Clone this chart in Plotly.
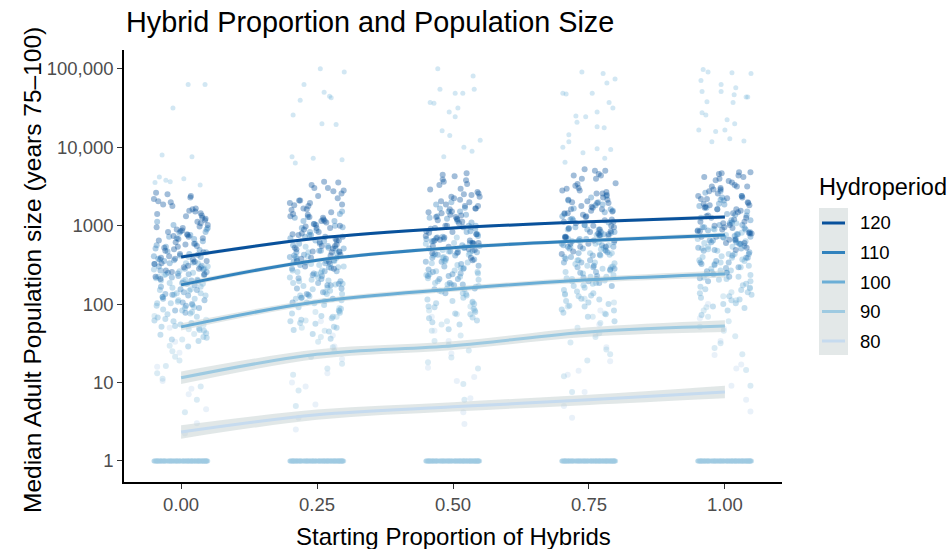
import plotly.graph_objects as go

# ---------------- data ----------------
X_GROUPS = [0.00, 0.25, 0.50, 0.75, 1.00]
X_TICKTEXT = ["0.00", "0.25", "0.50", "0.75", "1.00"]
Y_TICKVALS = [1, 10, 100, 1000, 10000, 100000]
Y_TICKTEXT = ["1", "10", "100", "1000", "10,000", "100,000"]

HYDRO = [120, 110, 100, 90, 80]
COLORS = ["#08519c", "#3182bd", "#6baed6", "#9ecae1", "#c6dbef"]

# smoothed fit (log10 of population) at each starting proportion
SMOOTH_120 = [2.60, 2.84, 2.97, 3.05, 3.11]
SMOOTH_110 = [2.245, 2.56, 2.72, 2.81, 2.88]
SMOOTH_100 = [1.71, 2.03, 2.19, 2.31, 2.385]
SMOOTH_90 = [1.06, 1.36, 1.47, 1.645, 1.72]
SMOOTH_80 = [0.37, 0.59, 0.69, 0.78, 0.88]
# confidence half-width (log10 units)
SE_120 = [0.025, 0.02, 0.02, 0.02, 0.025]
SE_110 = [0.032, 0.025, 0.025, 0.025, 0.032]
SE_100 = [0.045, 0.035, 0.033, 0.035, 0.045]
SE_90 = [0.08, 0.06, 0.055, 0.06, 0.075]
SE_80 = [0.085, 0.065, 0.06, 0.065, 0.08]

# jitter offsets (horizontal spread of points inside each group)
JITTER = [-0.046, 0.021, -0.008, 0.039, -0.031, 0.012, -0.019, 0.047, -0.002, 0.030,
          -0.041, 0.005, 0.026, -0.024, 0.043, -0.013, 0.017, -0.037, 0.034, -0.005,
          0.009, -0.049, 0.024, -0.016, 0.041, -0.028, 0.002, 0.036, -0.011, 0.014,
          -0.044, 0.029, -0.021, 0.046, -0.034, 0.007, -0.003, 0.019, -0.039, 0.032]
JITTER_B = [0.018, -0.036, 0.044, -0.010, 0.027, -0.047, 0.003, 0.038, -0.022, 0.011,
            -0.042, 0.033, -0.006, 0.049, -0.029, 0.015, -0.017, 0.040, -0.033, 0.022,
            -0.001, 0.045, -0.038, 0.008, -0.025, 0.031, -0.045, 0.013, 0.036, -0.014,
            0.025, -0.050, 0.042, -0.008, 0.020, -0.031, 0.047, -0.019, 0.004, -0.043]

# log10 population of the plotted runs, per group (x = 0, .25, .5, .75, 1)
PTS_120 = [
    [3.42,3.21,2.95,3.10,2.72,2.88,3.30,2.55,2.64,3.05,2.81,2.47,3.18,2.92,2.38,2.70,3.36,2.59,2.99,2.83,3.12,2.51,2.77,3.25,2.66,2.43,2.94,3.03,2.58,2.86,3.15,2.74],
    [3.55,3.32,3.08,3.21,2.86,3.01,3.44,2.72,2.79,3.17,2.95,2.63,3.29,3.04,2.55,2.83,3.48,2.74,3.12,2.97,3.25,2.67,2.90,3.38,2.81,2.59,3.06,3.15,2.71,2.99,3.27,2.88],
    [3.65,3.41,3.18,3.30,2.96,3.11,3.53,2.82,2.89,3.27,3.05,2.74,3.39,3.14,2.66,2.93,3.58,2.85,3.22,3.07,3.35,2.78,3.00,3.47,2.91,2.70,3.16,3.25,2.81,3.09,3.37,2.98],
    [3.70,3.47,3.24,3.36,3.03,3.18,3.60,2.90,2.96,3.33,3.12,2.81,3.45,3.21,2.73,3.00,3.64,2.92,3.29,3.14,3.41,2.85,3.07,3.53,2.98,2.77,3.23,3.31,2.88,3.16,3.43,3.05],
    [3.68,3.50,3.29,3.41,3.08,3.23,3.62,2.95,3.01,3.38,3.17,2.86,3.50,3.26,2.78,3.05,3.66,2.97,3.34,3.19,3.46,2.90,3.12,3.57,3.03,2.82,3.28,3.36,2.93,3.21,3.48,3.10],
]
PTS_120_B = [
    [3.38,2.52,3.07,2.79,3.22,2.35,2.97,3.13,2.61,2.89,3.31,2.45,2.73,3.01,2.68,3.19,2.41,2.84,3.27,2.57,2.93,3.09,2.32,2.76,3.40,2.63,2.98,2.49,3.16,2.87,2.54,3.34],
    [3.52,2.66,3.20,2.92,3.35,2.48,3.10,3.26,2.74,3.02,3.45,2.58,2.86,3.14,2.81,3.32,2.54,2.97,3.41,2.70,3.06,3.22,2.45,2.89,3.56,2.76,3.11,2.62,3.29,3.00,2.67,3.48],
    [3.63,2.77,3.31,3.03,3.46,2.59,3.21,3.37,2.85,3.13,3.56,2.69,2.97,3.25,2.92,3.43,2.65,3.08,3.52,2.81,3.17,3.33,2.56,3.00,3.67,2.87,3.22,2.73,3.40,3.11,2.78,3.59],
    [3.70,2.85,3.39,3.11,3.54,2.67,3.29,3.45,2.93,3.21,3.64,2.77,3.05,3.33,3.00,3.51,2.73,3.16,3.60,2.89,3.25,3.41,2.64,3.08,3.72,2.95,3.30,2.81,3.48,3.19,2.86,3.66],
    [3.67,2.90,3.44,3.16,3.58,2.72,3.34,3.50,2.98,3.26,3.62,2.82,3.10,3.38,3.05,3.55,2.78,3.21,3.64,2.94,3.30,3.46,2.69,3.13,3.68,3.00,3.35,2.86,3.52,3.24,2.91,3.60],
]
PTS_110 = [
    [2.95,2.62,2.31,2.48,2.15,2.77,2.40,2.05,2.56,2.88,2.22,2.69,2.36,1.98,2.51,2.83,2.12,2.44,2.73,2.27,2.60,1.92,2.38,3.05,2.18,2.52,2.66,2.09,2.45,2.91,2.30,2.57],
    [3.10,2.77,2.46,2.63,2.29,2.92,2.55,2.20,2.71,3.02,2.36,2.84,2.51,2.12,2.66,2.97,2.27,2.59,2.88,2.42,2.75,2.07,2.53,3.18,2.33,2.68,2.81,2.24,2.60,3.06,2.45,2.72],
    [3.22,2.89,2.58,2.75,2.41,3.04,2.67,2.32,2.83,3.14,2.48,2.96,2.63,2.24,2.78,3.09,2.39,2.71,3.00,2.54,2.87,2.19,2.65,3.30,2.45,2.80,2.93,2.36,2.72,3.18,2.57,2.84],
    [3.30,2.97,2.66,2.83,2.49,3.12,2.75,2.40,2.91,3.22,2.56,3.04,2.71,2.32,2.86,3.17,2.47,2.79,3.08,2.62,2.95,2.27,2.73,3.38,2.53,2.88,3.01,2.44,2.80,3.26,2.65,2.92],
    [3.36,3.03,2.72,2.89,2.55,3.18,2.81,2.46,2.97,3.28,2.62,3.10,2.77,2.38,2.92,3.23,2.53,2.85,3.14,2.68,3.01,2.33,2.79,3.44,2.59,2.94,3.07,2.50,2.86,3.32,2.71,2.98],
]
PTS_110_B = [
    [2.71,2.02,2.49,2.86,2.26,2.58,1.95,2.39,2.97,2.13,2.64,2.34,2.80,2.07,2.53,2.19,2.92,2.43,1.89,2.67,2.29,2.75,2.11,2.47,3.01,2.24,2.61,2.37,2.84,2.00,2.55,2.41],
    [2.86,2.15,2.62,3.00,2.39,2.71,2.08,2.52,3.11,2.26,2.77,2.47,2.94,2.20,2.66,2.32,3.06,2.56,2.02,2.80,2.42,2.88,2.24,2.60,3.15,2.37,2.74,2.50,2.98,2.13,2.68,2.54],
    [2.98,2.27,2.74,3.12,2.51,2.83,2.20,2.64,3.23,2.38,2.89,2.59,3.06,2.32,2.78,2.44,3.18,2.68,2.14,2.92,2.54,3.00,2.36,2.72,3.27,2.49,2.86,2.62,3.10,2.25,2.80,2.66],
    [3.07,2.36,2.83,3.21,2.60,2.92,2.29,2.73,3.32,2.47,2.98,2.68,3.15,2.41,2.87,2.53,3.27,2.77,2.23,3.01,2.63,3.09,2.45,2.81,3.36,2.58,2.95,2.71,3.19,2.34,2.89,2.75],
    [3.13,2.42,2.89,3.27,2.66,2.98,2.35,2.79,3.38,2.53,3.04,2.74,3.21,2.47,2.93,2.59,3.33,2.83,2.29,3.07,2.69,3.15,2.51,2.87,3.42,2.64,3.01,2.77,3.25,2.40,2.95,2.81],
]
PTS_100 = [
    [2.45,2.12,1.88,2.30,1.67,2.05,2.52,1.79,1.96,2.21,1.58,2.38,1.92,2.14,1.72,2.60,2.01,1.84,2.27,1.63,2.09,1.95,2.42,1.76,2.18,1.53,2.33,1.99],
    [2.58,2.25,2.01,2.43,1.78,2.17,2.66,1.91,2.08,2.34,1.70,2.51,2.04,2.27,1.84,2.73,2.13,1.96,2.40,1.75,2.21,2.07,2.55,1.88,2.30,1.62,2.47,2.11],
    [2.70,2.37,2.13,2.55,1.90,2.29,2.78,2.03,2.20,2.46,1.82,2.63,2.16,2.39,1.96,2.85,2.25,2.08,2.52,1.87,2.33,2.19,2.67,2.00,2.42,1.74,2.59,2.23],
    [2.80,2.47,2.23,2.65,2.00,2.39,2.88,2.13,2.30,2.56,1.92,2.73,2.26,2.49,2.06,2.95,2.35,2.18,2.62,1.97,2.43,2.29,2.77,2.10,2.52,1.84,2.69,2.33],
    [2.88,2.55,2.31,2.73,2.08,2.47,2.96,2.21,2.38,2.64,2.00,2.81,2.34,2.57,2.14,3.03,2.43,2.26,2.70,2.05,2.51,2.37,2.85,2.18,2.60,1.92,2.77,2.41],
]
PTS_100_B = [
    [2.35,1.69,2.03,2.48,1.81,2.17,1.55,2.26,1.93,2.40,1.74,2.11,1.61,2.31,1.87,2.52,1.98,1.46,2.22,1.78,2.07,2.44,1.66,2.14,1.90,2.37,1.57,2.01,2.29,1.83,2.19,1.71],
    [2.48,1.80,2.15,2.61,1.92,2.29,1.65,2.38,2.05,2.53,1.85,2.23,1.71,2.43,1.99,2.65,2.10,1.56,2.34,1.89,2.19,2.57,1.76,2.26,2.02,2.50,1.67,2.13,2.41,1.94,2.31,1.82],
    [2.60,1.92,2.27,2.73,2.04,2.41,1.77,2.50,2.17,2.65,1.97,2.35,1.83,2.55,2.11,2.77,2.22,1.68,2.46,2.01,2.31,2.69,1.88,2.38,2.14,2.62,1.79,2.25,2.53,2.06,2.43,1.94],
    [2.70,2.02,2.37,2.83,2.14,2.51,1.87,2.60,2.27,2.75,2.07,2.45,1.93,2.65,2.21,2.87,2.32,1.78,2.56,2.11,2.41,2.79,1.98,2.48,2.24,2.72,1.89,2.35,2.63,2.16,2.53,2.04],
    [2.78,2.10,2.45,2.91,2.22,2.59,1.95,2.68,2.35,2.83,2.15,2.53,2.01,2.73,2.29,2.95,2.40,1.86,2.64,2.19,2.49,2.87,2.06,2.56,2.32,2.80,1.97,2.43,2.71,2.24,2.61,2.12],
]
PTS_90 = [
    [1.85,1.62,1.40,1.73,1.21,1.55,0.95,1.33,1.68,1.12,0.78,1.47,1.80,1.05,0.62,1.28],
    [1.95,1.70,1.52,1.84,1.33,1.66,1.10,1.45,1.79,1.24,0.90,1.58,1.90,1.18,0.70,1.40],
    [2.02,1.78,1.60,1.92,1.41,1.74,1.18,1.53,1.87,1.32,0.98,1.66,1.97,1.26,0.78,1.48],
    [2.12,1.88,1.70,2.02,1.51,1.84,1.28,1.63,1.97,1.42,1.08,1.76,2.07,1.36,0.88,1.58],
    [2.20,1.96,1.78,2.10,1.59,1.92,1.36,1.71,2.05,1.50,1.16,1.84,2.15,1.44,0.96,1.66],
]
PTS_80 = [
    [1.52,0.85,1.20,0.48,1.70,0.66,1.02,0.35,1.38,0.92],
    [1.60,0.95,1.30,0.55,1.78,0.72,1.12,0.40,1.46,1.00],
    [1.66,1.02,1.37,0.62,1.84,0.80,1.19,0.47,1.53,1.07],
    [1.74,1.10,1.45,0.70,1.92,0.88,1.27,0.55,1.61,1.15],
    [1.82,1.18,1.53,0.78,2.00,0.96,1.35,0.63,1.69,1.23],
]
# sparse very large runs: (jitter offset, log10 population)
HIGH_RUNS = [
    [(0.013,4.80),(0.044,4.80),(-0.015,4.50),(-0.035,3.90),(0.020,3.88),(-0.040,3.62),(0.005,3.60),(-0.048,3.55),(-0.020,3.56),(0.035,3.52),(-0.028,3.58)],
    [(0.006,5.00),(0.050,4.96),(-0.024,4.80),(0.013,4.70),(0.026,4.63),(0.023,4.65),(-0.031,4.60),(-0.044,4.41),(0.009,4.30),(0.035,4.29),(-0.046,3.88),(0.046,3.84),(-0.040,3.80),(-0.007,3.86)],
    [(-0.028,5.00),(-0.024,4.74),(-0.035,4.56),(-0.042,4.57),(0.004,4.69),(0.018,4.69),(-0.007,4.45),(0.009,4.50),(0.004,4.39),(-0.020,4.21),(-0.006,4.15),(0.020,4.00),(-0.017,3.88),(0.037,4.91),(0.039,4.74),(0.050,4.09),(0.035,3.95)],
    [(-0.013,4.96),(0.026,4.94),(0.048,4.87),(-0.048,4.69),(-0.042,4.68),(0.006,4.69),(0.033,4.82),(0.037,4.57),(0.044,4.50),(0.015,4.45),(-0.024,4.40),(-0.006,4.39),(-0.022,4.32),(0.015,4.26),(0.028,4.25),(-0.037,4.16),(-0.037,4.07),(0.015,3.98),(0.040,3.97),(-0.048,4.00),(-0.011,3.93),(0.029,3.86),(-0.044,3.81)],
    [(-0.040,4.99),(-0.031,4.96),(0.013,4.95),(0.048,4.94),(-0.044,4.85),(-0.007,4.80),(0.020,4.76),(-0.042,4.71),(-0.007,4.71),(0.017,4.67),(0.039,4.64),(0.042,4.64),(-0.033,4.58),(0.015,4.57),(-0.042,4.44),(-0.035,4.41),(0.004,4.35),(0.018,4.30),(-0.048,4.22),(-0.017,4.20),(0.000,4.22),(0.009,4.11),(0.035,4.08),(-0.024,4.07)],
]
FLOOR_VALUE = 1  # runs that ended at the minimum population

PTS = [PTS_120, PTS_110, PTS_100, PTS_90, PTS_80]
PTS_B = [PTS_120_B, PTS_110_B, PTS_100_B, None, None]
SMOOTH = [SMOOTH_120, SMOOTH_110, SMOOTH_100, SMOOTH_90, SMOOTH_80]
SE = [SE_120, SE_110, SE_100, SE_90, SE_80]

fig = go.Figure()
MSIZE = 6
MOPAC = 0.38

# ---- jittered points (light to dark so dark sits on top) ----
for h in reversed(range(len(HYDRO))):
    xs, ys = [], []
    for g, gx in enumerate(X_GROUPS):
        for i, v in enumerate(PTS[h][g]):
            xs.append(gx + JITTER[(i + 7 * h + 3 * g) % len(JITTER)])
            ys.append(10 ** v)
        if PTS_B[h] is not None:
            for i, v in enumerate(PTS_B[h][g]):
                xs.append(gx + JITTER_B[(i + 5 * h + 3 * g) % len(JITTER_B)])
                ys.append(10 ** v)
    fig.add_trace(go.Scatter(x=xs, y=ys, mode="markers", showlegend=False, hoverinfo="skip",
                             marker=dict(size=MSIZE, color=COLORS[h], opacity=MOPAC, line=dict(width=0))))

# high outlier runs
hx, hy = [], []
for g, gx in enumerate(X_GROUPS):
    for off, v in HIGH_RUNS[g]:
        hx.append(gx + off)
        hy.append(10 ** v)
fig.add_trace(go.Scatter(x=hx, y=hy, mode="markers", showlegend=False, hoverinfo="skip",
                         marker=dict(size=5, color="#6baed6", opacity=0.3, line=dict(width=0))))

# floor row at population 1
fx, fy = [], []
for gx in X_GROUPS:
    for off in JITTER + JITTER_B:
        fx.append(gx + off)
        fy.append(FLOOR_VALUE)
fig.add_trace(go.Scatter(x=fx, y=fy, mode="markers", showlegend=False, hoverinfo="skip",
                         marker=dict(size=5, color="#9ecae1", opacity=0.55, line=dict(width=0))))

# ---- confidence bands ----
BAND = "rgba(195,207,207,0.5)"
for h in range(len(HYDRO)):
    up = [10 ** (m + s) for m, s in zip(SMOOTH[h], SE[h])]
    lo = [10 ** (m - s) for m, s in zip(SMOOTH[h], SE[h])]
    fig.add_trace(go.Scatter(x=X_GROUPS, y=up, mode="lines", line=dict(width=0, shape="spline"),
                             showlegend=False, hoverinfo="skip"))
    fig.add_trace(go.Scatter(x=X_GROUPS, y=lo, mode="lines", line=dict(width=0, shape="spline"),
                             fill="tonexty", fillcolor=BAND, showlegend=False, hoverinfo="skip"))

# ---- smooth lines ----
for h in range(len(HYDRO)):
    fig.add_trace(go.Scatter(x=X_GROUPS, y=[10 ** m for m in SMOOTH[h]], mode="lines",
                             line=dict(color=COLORS[h], width=3, shape="spline"),
                             name=str(HYDRO[h]), showlegend=False))

# ---- manual legend (ggplot style) ----
L, R, T, B = 124, 782, 50, 482
W, H = R - L, B - T
px = lambda p: (p - L) / W
py = lambda p: (B - p) / H
shapes = [dict(type="rect", xref="paper", yref="paper", x0=px(819), x1=px(848), y0=py(355), y1=py(208),
               fillcolor="#e3e8e8", line=dict(width=0), layer="below")]
annotations = [dict(text="Hydroperiod", xref="paper", yref="paper", x=px(817), y=py(187),
                    xanchor="left", yanchor="middle", showarrow=False,
                    font=dict(size=23.5, color="black"))]
for k, hv in enumerate(HYDRO):
    yk = 223 + k * 29.5
    shapes.append(dict(type="line", xref="paper", yref="paper", x0=px(822), x1=px(845), y0=py(yk), y1=py(yk),
                       line=dict(color=COLORS[k], width=3)))
    annotations.append(dict(text=str(hv), xref="paper", yref="paper", x=px(858), y=py(yk),
                            xanchor="left", yanchor="middle", showarrow=False,
                            font=dict(size=18.5, color="black")))

annotations.append(dict(text="Median Adult Population size (years 75–100)", xref="paper", yref="paper",
                        x=px(32), y=py(270), textangle=-90, xanchor="center", yanchor="middle",
                        showarrow=False, font=dict(size=24.5, color="black")))
annotations.append(dict(text="Starting Proportion of Hybrids", xref="paper", yref="paper",
                        x=0.5, y=py(536), xanchor="center", yanchor="middle",
                        showarrow=False, font=dict(size=24, color="black")))

fig.update_layout(
    width=952, height=549,
    margin=dict(l=L, r=952 - R, t=T, b=549 - B),
    paper_bgcolor="white", plot_bgcolor="white",
    font=dict(family="Liberation Sans, Arial, sans-serif"),
    title=dict(text="Hybrid Proportion and Population Size", x=126 / 952, xanchor="left",
               y=1 - 22 / 549, yanchor="middle", font=dict(size=28.8, color="black")),
    shapes=shapes, annotations=annotations, showlegend=False,
)
fig.update_xaxes(range=[-0.105, 1.105], tickvals=X_GROUPS, ticktext=X_TICKTEXT,
                 showline=True, linecolor="black", linewidth=1.5, ticks="outside", ticklen=5,
                 tickcolor="#333333", tickwidth=1.2, showgrid=False, zeroline=False,
                 tickfont=dict(size=18.5, color="#4d4d4d"))
fig.update_yaxes(type="log", range=[-0.268, 5.24], tickvals=Y_TICKVALS, ticktext=Y_TICKTEXT,
                 showline=True, linecolor="black", linewidth=1.5, ticks="outside", ticklen=5,
                 tickcolor="#333333", tickwidth=1.2, showgrid=False, zeroline=False,
                 tickfont=dict(size=18.5, color="#4d4d4d"))

fig.write_html("out.html")
